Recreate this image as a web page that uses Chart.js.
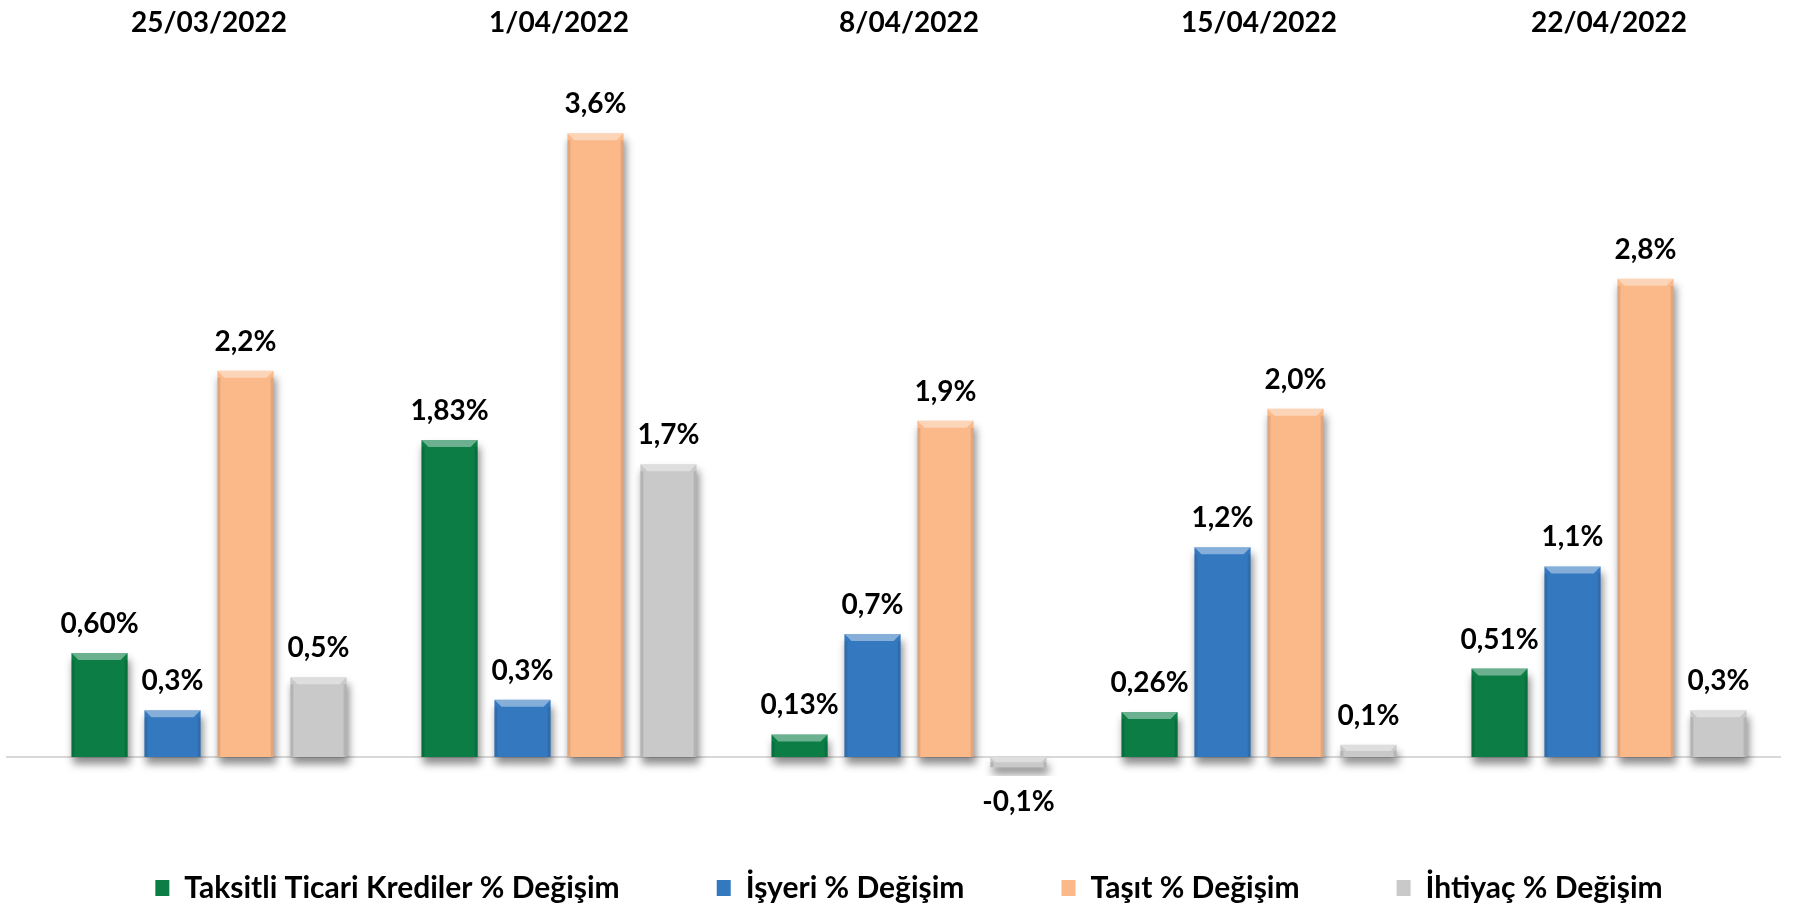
<!DOCTYPE html>
<html lang="tr">
<head>
    <meta charset="UTF-8">
    <title>Kredi Değişim</title>
    <script src="https://cdn.jsdelivr.net/npm/chart.js"></script>
    <style>
        html, body { margin: 0; padding: 0; background: #fff; }
        #wrap { width: 1819px; height: 916px; }
    </style>
</head>
<body>
    <div id="wrap"><canvas id="chart"></canvas></div>

    <script>
        // data
        const dates = ['25/03/2022', '1/04/2022', '8/04/2022', '15/04/2022', '22/04/2022'];
        const seriesNames = ['Taksitli Ticari Krediler % Değişim', 'İşyeri % Değişim', 'Taşıt % Değişim', 'İhtiyaç % Değişim'];
        const taksitli = [0.60, 1.83, 0.13, 0.26, 0.51];
        const isyeri = [0.27, 0.33, 0.71, 1.21, 1.10];
        const tasit = [2.23, 3.60, 1.94, 2.01, 2.76];
        const ihtiyac = [0.46, 1.69, -0.06, 0.07, 0.27];
        const labelDecimals = [2, 1, 1, 1];

        const colors = ['#0b7d45', '#3479c0', '#fbb98a', '#c9c9c9'];
        const FONT = 'Lato, "Open Sans", sans-serif';

        function fmt(v, d) {
            return v.toFixed(d).replace('.', ',') + '%';
        }

        // light gray baseline at zero across the whole width
        const zeroLine = {
            id: 'zeroLine',
            beforeDatasetsDraw(chart) {
                const ctx = chart.ctx;
                const y = chart.scales.y.getPixelForValue(0);
                ctx.save();
                ctx.strokeStyle = '#d9d9d9';
                ctx.lineWidth = 2;
                ctx.beginPath();
                ctx.moveTo(6, y);
                ctx.lineTo(1781, y);
                ctx.stroke();
                ctx.restore();
            }
        };

        // soft drop shadow under every bar
        const barShadow = {
            id: 'barShadow',
            beforeDatasetDraw(chart) {
                const ctx = chart.ctx;
                ctx.save();
                ctx.shadowColor = 'rgba(0,0,0,0.45)';
                ctx.shadowBlur = 8;
                ctx.shadowOffsetX = 2;
                ctx.shadowOffsetY = 7;
            },
            afterDatasetDraw(chart) {
                chart.ctx.restore();
            }
        };

        // bevel highlight + value labels
        const bevelAndLabels = {
            id: 'bevelAndLabels',
            afterDatasetsDraw(chart) {
                const ctx = chart.ctx;
                ctx.save();
                chart.data.datasets.forEach((ds, di) => {
                    chart.getDatasetMeta(di).data.forEach((bar, i) => {
                        const v = ds.data[i];
                        const left = bar.x - bar.width / 2;
                        const right = bar.x + bar.width / 2;
                        const top = Math.min(bar.y, bar.base);
                        const bottom = Math.max(bar.y, bar.base);
                        const h = bottom - top;
                        const b = Math.min(7, h / 2);
                        // top bevel
                        ctx.fillStyle = 'rgba(255,255,255,0.4)';
                        ctx.beginPath();
                        ctx.moveTo(left, top);
                        ctx.lineTo(right, top);
                        ctx.lineTo(right - b, top + b);
                        ctx.lineTo(left + b, top + b);
                        ctx.closePath();
                        ctx.fill();
                        // side shading
                        ctx.fillStyle = 'rgba(0,0,0,0.10)';
                        ctx.fillRect(left, top + b, 3, h - b);
                        ctx.fillRect(right - 3, top + b, 3, h - b);

                        // value label
                        ctx.fillStyle = '#000';
                        ctx.font = 'bold 28px ' + FONT;
                        ctx.textAlign = 'center';
                        ctx.textBaseline = 'alphabetic';
                        const txt = fmt(v, labelDecimals[di]);
                        if (v >= 0) {
                            ctx.fillText(txt, bar.x, bar.y - 20);
                        } else {
                            ctx.fillText(txt, bar.x, bar.y + 44);
                        }
                    });
                });
                ctx.restore();
            }
        };

        const values = [taksitli, isyeri, tasit, ihtiyac];

        new Chart(document.getElementById('chart').getContext('2d'), {
            type: 'bar',
            data: {
                labels: dates,
                datasets: seriesNames.map((name, i) => ({
                    label: name,
                    data: values[i],
                    backgroundColor: colors[i],
                    borderWidth: 0,
                    categoryPercentage: 0.834,
                    barPercentage: 0.77
                }))
            },
            options: {
                responsive: true,
                maintainAspectRatio: false,
                animation: false,
                layout: { padding: { left: 34, right: 35, top: 0, bottom: 3 } },
                scales: {
                    x: {
                        position: 'top',
                        grid: { display: false },
                        border: { display: false },
                        ticks: {
                            color: '#000',
                            font: { family: FONT, size: 28, weight: 'bold' },
                            padding: 16
                        },
                        afterFit(axis) { axis.height = 64; }
                    },
                    y: {
                        display: false,
                        min: -0.11,
                        max: 4.0
                    }
                },
                plugins: {
                    tooltip: { enabled: false },
                    legend: {
                        position: 'bottom',
                        labels: {
                            color: '#000',
                            font: { family: FONT, size: 30, weight: 'bold' },
                            boxWidth: 14,
                            boxHeight: 16,
                            padding: 97
                        }
                    }
                }
            },
            plugins: [zeroLine, barShadow, bevelAndLabels]
        });
    </script>
</body>
</html>
